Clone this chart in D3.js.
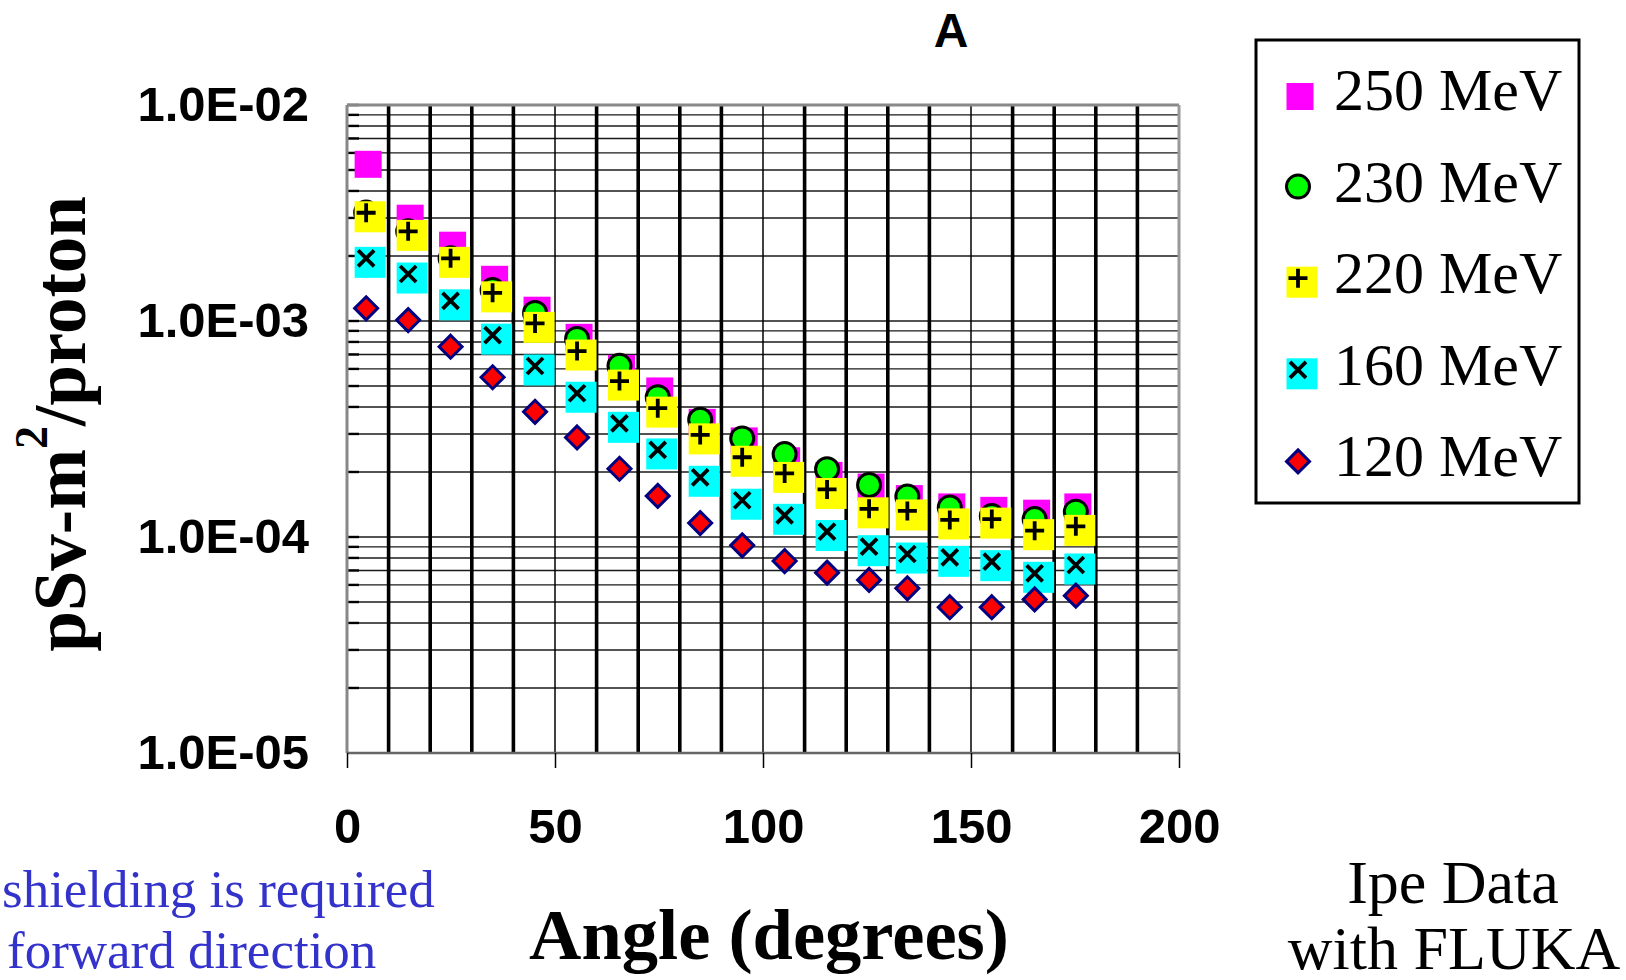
<!DOCTYPE html>
<html>
<head>
<meta charset="utf-8">
<script src="https://cdn.jsdelivr.net/npm/d3@7"></script>
<style>
  body { margin: 0; background: #fff; }
  svg { display: block; }
</style>
</head>
<body>
<script>
const width = 1626;
const height = 980;

// angles (degrees)
const angles = [4.6, 14.7, 24.9, 35, 45.2, 55.3, 65.5, 74.7, 84.9, 95, 105.2, 115.4, 125.5, 134.7, 144.9, 155, 165.3, 175.2];

// dose per proton, pSv-m2/proton
const mev250 = [5.40e-3, 3.04e-3, 2.28e-3, 1.585e-3, 1.14e-3, 8.54e-4, 6.13e-4, 4.82e-4, 3.45e-4, 2.83e-4, 2.29e-4, 1.96e-4, 1.73e-4, 1.53e-4, 1.40e-4, 1.35e-4, 1.31e-4, 1.40e-4];
const mev230 = [3.18e-3, 2.60e-3, 1.95e-3, 1.39e-3, 1.09e-3, 8.26e-4, 6.20e-4, 4.44e-4, 3.49e-4, 2.86e-4, 2.42e-4, 2.06e-4, 1.74e-4, 1.54e-4, 1.37e-4, 1.25e-4, 1.21e-4, 1.31e-4];
const mev220 = [3.17e-3, 2.60e-3, 1.95e-3, 1.35e-3, 9.75e-4, 7.26e-4, 5.27e-4, 3.95e-4, 2.97e-4, 2.34e-4, 1.97e-4, 1.66e-4, 1.35e-4, 1.32e-4, 1.20e-4, 1.21e-4, 1.07e-4, 1.12e-4];
const mev160 = [1.95e-3, 1.65e-3, 1.24e-3, 8.60e-4, 6.19e-4, 4.63e-4, 3.36e-4, 2.53e-4, 1.89e-4, 1.48e-4, 1.26e-4, 1.06e-4, 9.02e-5, 8.34e-5, 8.05e-5, 7.69e-5, 6.79e-5, 7.42e-5];
const mev120 = [1.145e-3, 1.01e-3, 7.60e-4, 5.49e-4, 3.80e-4, 2.89e-4, 2.07e-4, 1.55e-4, 1.16e-4, 9.15e-5, 7.74e-5, 6.84e-5, 6.33e-5, 5.79e-5, 4.73e-5, 4.73e-5, 5.14e-5, 5.35e-5];

const seriesNames = ['250 MeV', '230 MeV', '220 MeV', '160 MeV', '120 MeV'];
const seriesValues = [mev250, mev230, mev220, mev160, mev120];
const seriesMarkers = ['square', 'circle', 'plus', 'cross', 'diamond'];

const xTicks = [0, 50, 100, 150, 200];
const yTicks = [1e-5, 1e-4, 1e-3, 1e-2];
const yTickLabels = ['1.0E-05', '1.0E-04', '1.0E-03', '1.0E-02'];

const sans = '"Liberation Sans", Arial, sans-serif';
const serif = '"Liberation Serif", "Times New Roman", serif';

const plot = { left: 347, right: 1179, top: 105, bottom: 753 };

const x = d3.scaleLinear().domain([0, 200]).range([plot.left, plot.right]);
const y = d3.scaleLog().domain([1e-5, 1e-2]).range([plot.bottom, plot.top]);

const svg = d3.select('body').append('svg')
  .attr('width', width)
  .attr('height', height);

// horizontal grid (log minors)
const yGrid = [];
[-5, -4, -3].forEach(e => {
  for (let k = 1; k <= 9; k++) { yGrid.push(k * Math.pow(10, e)); }
});

const grid = svg.append('g').attr('class', 'grid');

grid.selectAll('.hline')
  .data(yGrid.filter(v => v > 1e-5))
  .enter().append('line')
    .attr('class', 'hline')
    .attr('x1', plot.left).attr('x2', plot.right)
    .attr('y1', d => y(d)).attr('y2', d => y(d))
    .attr('stroke', '#1a1a1a')
    .attr('stroke-width', 1.4);

// vertical grid, thin at major ticks, heavy elsewhere
grid.selectAll('.vline')
  .data(d3.range(10, 200, 10))
  .enter().append('line')
    .attr('class', 'vline')
    .attr('x1', d => x(d)).attr('x2', d => x(d))
    .attr('y1', plot.top).attr('y2', plot.bottom)
    .attr('stroke', '#000')
    .attr('stroke-width', d => d % 50 === 0 ? 1.5 : 3.6);

// inner minor ticks on the left axis
grid.selectAll('.ytick')
  .data(yGrid.filter(v => v > 1e-5).concat([1e-2]))
  .enter().append('line')
    .attr('x1', plot.left).attr('x2', plot.left + 12)
    .attr('y1', d => y(d)).attr('y2', d => y(d))
    .attr('stroke', '#000')
    .attr('stroke-width', 2.4);

// frame
const frame = svg.append('g');
frame.append('line')
  .attr('x1', plot.left).attr('x2', plot.right)
  .attr('y1', plot.top).attr('y2', plot.top)
  .attr('stroke', '#888').attr('stroke-width', 3.2);
frame.append('line')
  .attr('x1', plot.right).attr('x2', plot.right)
  .attr('y1', plot.top).attr('y2', plot.bottom)
  .attr('stroke', '#999').attr('stroke-width', 3);
frame.append('line')
  .attr('x1', plot.left).attr('x2', plot.left)
  .attr('y1', plot.top).attr('y2', plot.bottom)
  .attr('stroke', '#888').attr('stroke-width', 3);
frame.append('line')
  .attr('x1', plot.left).attr('x2', plot.right)
  .attr('y1', plot.bottom).attr('y2', plot.bottom)
  .attr('stroke', '#666').attr('stroke-width', 2.6);

// axes
const xAxis = svg.append('g')
  .attr('transform', `translate(0, ${plot.bottom})`)
  .call(d3.axisBottom(x).tickValues(xTicks).tickFormat(d3.format('d')).tickSize(15).tickPadding(40));
xAxis.select('.domain').remove();
xAxis.selectAll('.tick line').attr('stroke', '#000').attr('stroke-width', 1.5);
xAxis.selectAll('text')
  .attr('font-family', sans)
  .attr('font-weight', 'bold')
  .attr('font-size', 49)
  .attr('fill', '#000');

const yAxis = svg.append('g')
  .attr('transform', `translate(${plot.left}, 0)`)
  .call(d3.axisLeft(y).tickValues(yTicks).tickFormat((d, i) => yTickLabels[i]).tickSize(0).tickPadding(38));
yAxis.select('.domain').remove();
yAxis.selectAll('text')
  .attr('font-family', sans)
  .attr('font-weight', 'bold')
  .attr('font-size', 49)
  .attr('fill', '#000');

// markers
function drawMarker(g, type, cx, cy) {
  if (type === 'square') {
    g.append('rect')
      .attr('x', cx + 2 - 13.5).attr('y', cy + 1.5 - 13.5)
      .attr('width', 27).attr('height', 27)
      .attr('fill', '#ff00ff');
  } else if (type === 'circle') {
    g.append('circle')
      .attr('cx', cx).attr('cy', cy).attr('r', 11.5)
      .attr('fill', '#00ff00')
      .attr('stroke', '#000').attr('stroke-width', 3);
  } else if (type === 'plus' || type === 'cross') {
    g.append('rect')
      .attr('x', cx + 4 - 15.5).attr('y', cy + 4 - 15.5)
      .attr('width', 31).attr('height', 31)
      .attr('fill', type === 'plus' ? '#ffff00' : '#00ffff');
    const a = type === 'plus' ? 9.5 : 8;
    const p = type === 'plus'
      ? `M${cx - a},${cy}H${cx + a}M${cx},${cy - a}V${cy + a}`
      : `M${cx - a},${cy - a}L${cx + a},${cy + a}M${cx - a},${cy + a}L${cx + a},${cy - a}`;
    g.append('path')
      .attr('d', p)
      .attr('stroke', '#000').attr('stroke-width', 3.8)
      .attr('fill', 'none');
  } else if (type === 'diamond') {
    const r = 11.5;
    g.append('path')
      .attr('d', `M${cx},${cy - r}L${cx + r},${cy}L${cx},${cy + r}L${cx - r},${cy}Z`)
      .attr('fill', '#ff0000')
      .attr('stroke', '#000080').attr('stroke-width', 3);
  }
}

const marks = svg.append('g').attr('class', 'marks');
seriesValues.forEach((vals, si) => {
  const g = marks.append('g');
  vals.forEach((v, i) => drawMarker(g, seriesMarkers[si], x(angles[i]), y(v)));
});

// legend
const legend = svg.append('g').attr('class', 'legend');
legend.append('rect')
  .attr('x', 1256).attr('y', 40)
  .attr('width', 323).attr('height', 463)
  .attr('fill', '#fff')
  .attr('stroke', '#000').attr('stroke-width', 3);

seriesNames.forEach((name, i) => {
  const cy = 95 + i * 91.6;
  const g = legend.append('g');
  drawMarker(g, seriesMarkers[i], 1298, cy);
  g.append('text')
    .attr('x', 1334).attr('y', cy + 15)
    .attr('font-family', serif)
    .attr('font-size', 60)
    .attr('fill', '#000')
    .text(name);
});

// titles
svg.append('text')
  .attr('x', 951).attr('y', 47)
  .attr('text-anchor', 'middle')
  .attr('font-family', sans)
  .attr('font-weight', 'bold')
  .attr('font-size', 48)
  .text('A');

svg.append('text')
  .attr('x', 769).attr('y', 959)
  .attr('text-anchor', 'middle')
  .attr('font-family', serif)
  .attr('font-weight', 'bold')
  .attr('font-size', 72.5)
  .text('Angle (degrees)');

const yTitle = svg.append('text')
  .attr('transform', 'translate(85, 424) rotate(-90)')
  .attr('text-anchor', 'middle')
  .attr('font-family', serif)
  .attr('font-weight', 'bold')
  .attr('font-size', 73);
yTitle.append('tspan').text('pSv-m');
yTitle.append('tspan').attr('font-size', 46).attr('dy', -38).text('2');
yTitle.append('tspan').attr('dy', 38).text('/proton');

// side notes
const note = svg.append('g')
  .attr('font-family', serif)
  .attr('font-size', 53)
  .attr('fill', '#3333cc');
note.append('text').attr('x', 2).attr('y', 907).text('shielding is required');
note.append('text').attr('x', 7).attr('y', 968).text('forward direction');

const credit = svg.append('g')
  .attr('font-family', serif)
  .attr('font-size', 62)
  .attr('text-anchor', 'middle')
  .attr('fill', '#000');
credit.append('text').attr('x', 1453).attr('y', 903).text('Ipe Data');
credit.append('text').attr('x', 1454).attr('y', 969).text('with FLUKA');
</script>
</body>
</html>
